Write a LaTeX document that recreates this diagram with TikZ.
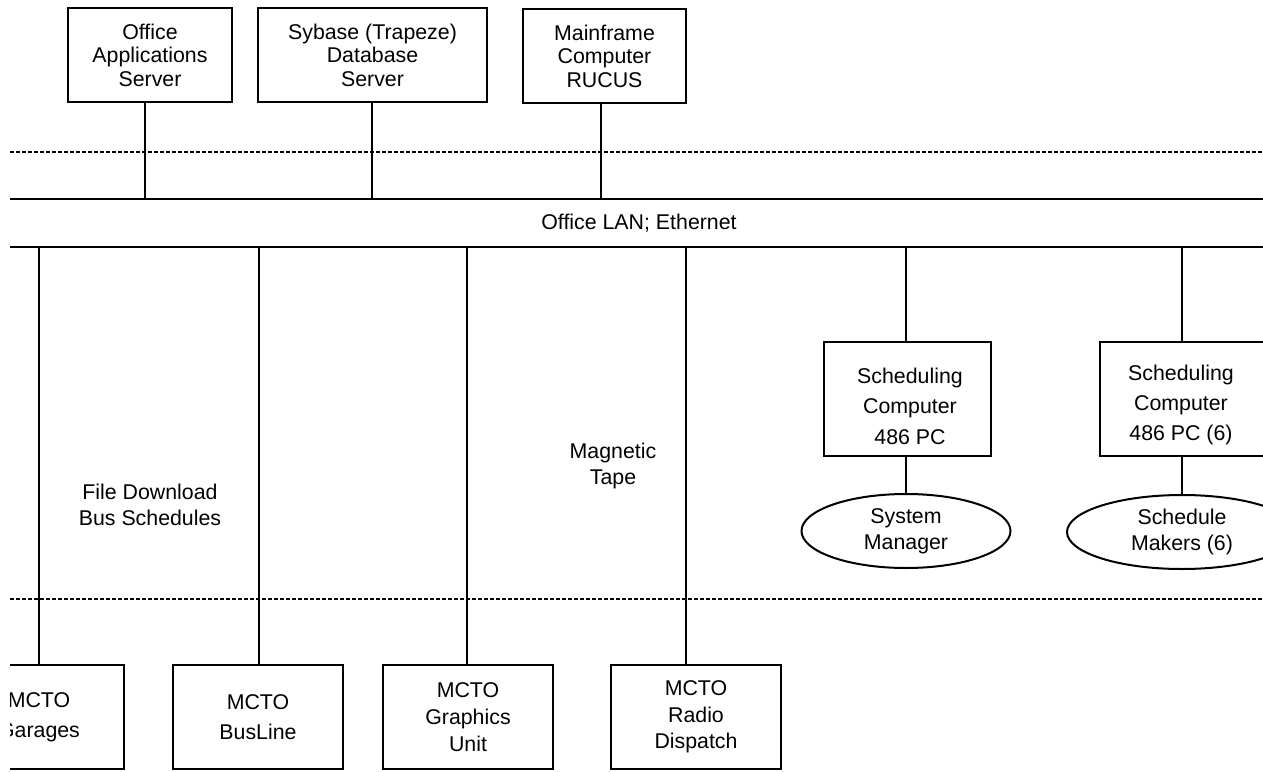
\documentclass[tikz,border=0pt]{standalone}
\usepackage{fontspec}
\setmainfont{Liberation Sans}
\usetikzlibrary{shapes.geometric}
\begin{document}
\begin{tikzpicture}[x=0.75pt,y=-0.75pt,
  every node/.style={font=\fontsize{16}{20}\selectfont, align=center, inner sep=0pt},
  tight/.style={font=\fontsize{16}{17.6}\selectfont},
  loose/.style={font=\fontsize{16}{22.8}\selectfont},
  box/.style={draw, line width=1.5pt, minimum width=#1*0.75pt},
  box/.default=164,
  topbox/.style={box=#1, minimum height=94*0.75pt, tight},
  lowbox/.style={box=170, minimum height=104*0.75pt},
  pcbox/.style={box=167, minimum height=114*0.75pt},
  person/.style={draw, ellipse, line width=1.5pt, minimum height=74*0.75pt, font=\fontsize{16}{19.5}\selectfont},
  wire/.style={line width=1.5pt},
  dotline/.style={line width=1.2pt, dash pattern=on 3pt off 1.5pt}]
\useasboundingbox (0,0) rectangle (1263,771);
% the drawing is cut off along its left and right borders
\clip (10,0) rectangle (1263,771);

% servers on the upper side of the LAN
\node[topbox=164] (oas) at (150,55) {Office\\Applications\\Server};
\node[topbox=229] (syb) at (372.5,55) {Sybase (Trapeze)\\Database\\Server};
\node[topbox=163] (mf) at (604.5,56) {Mainframe\\Computer\\RUCUS};

% boundary lines and the LAN itself
\coordinate (dt1) at (10,152);
\coordinate (dt2) at (1263,152);
\coordinate (db1) at (10,599);
\coordinate (db2) at (1263,599);
\coordinate (lanA1) at (10,199);
\coordinate (lanA2) at (1263,199);
\coordinate (lanB1) at (10,247);
\coordinate (lanB2) at (1263,247);
\draw[dotline] (dt1) -- (dt2);
\draw[dotline] (db1) -- (db2);
\draw[wire] (lanA1) -- (lanA2);
\draw[wire] (lanB1) -- (lanB2);
\node (lan) at (639,223) {Office LAN; Ethernet};

% taps on the upper LAN cable
\coordinate (tOas) at (145,199);
\coordinate (tSyb) at (372,199);
\coordinate (tMf) at (601,199);
\draw[wire] (oas.south -| tOas) -- (tOas);
\draw[wire] (syb.south -| tSyb) -- (tSyb);
\draw[wire] (mf.south -| tMf) -- (tMf);

% scheduling workstations
\node[pcbox] (pc1) at (907,399) {};
\node[pcbox] (pc2) at (1183,399) {};
\node[loose] (pc1t) at (910,406) {Scheduling\\Computer\\486 PC};
\node[loose] (pc2t) at (1181,405) {Scheduling\\Computer\\486 PC (6)};
\node[person, minimum width=209*0.75pt] (sm) at (906,531) {System\\Manager};
\node[person, minimum width=230*0.75pt] (mk) at (1182,532) {Schedule\\Makers (6)};
\coordinate (tPc1) at (906,247);
\coordinate (tPc2) at (1182,247);
\draw[wire] (tPc1) -- (pc1.north -| tPc1);
\draw[wire] (tPc2) -- (pc2.north -| tPc2);
\draw[wire] (pc1.south -| tPc1) -- (sm.north);
\draw[wire] (pc2.south -| tPc2) -- (mk.north);

% MCTO systems below the lower boundary
\node[lowbox, loose] (gar) at (39,717) {MCTO\\Garages};
\node[lowbox, loose] (bus) at (258,717) {MCTO\\BusLine};
\node[lowbox] (gfx) at (468,717) {MCTO\\Graphics\\Unit};
\node[lowbox] (rad) at (696,717) {MCTO\\Radio\\Dispatch};
\coordinate (tGar) at (39,247);
\coordinate (tBus) at (259,247);
\coordinate (tGfx) at (467,247);
\coordinate (tRad) at (686,247);
\draw[wire] (tGar) -- (gar.north -| tGar);
\draw[wire] (tBus) -- (bus.north -| tBus);
\draw[wire] (tGfx) -- (gfx.north -| tGfx);
\draw[wire] (tRad) -- (rad.north -| tRad);

% link labels
\node (fd) at (150,505) {File Download\\Bus Schedules};
\node (mt) at (613,466) {Magnetic\\Tape};
\end{tikzpicture}
\end{document}
